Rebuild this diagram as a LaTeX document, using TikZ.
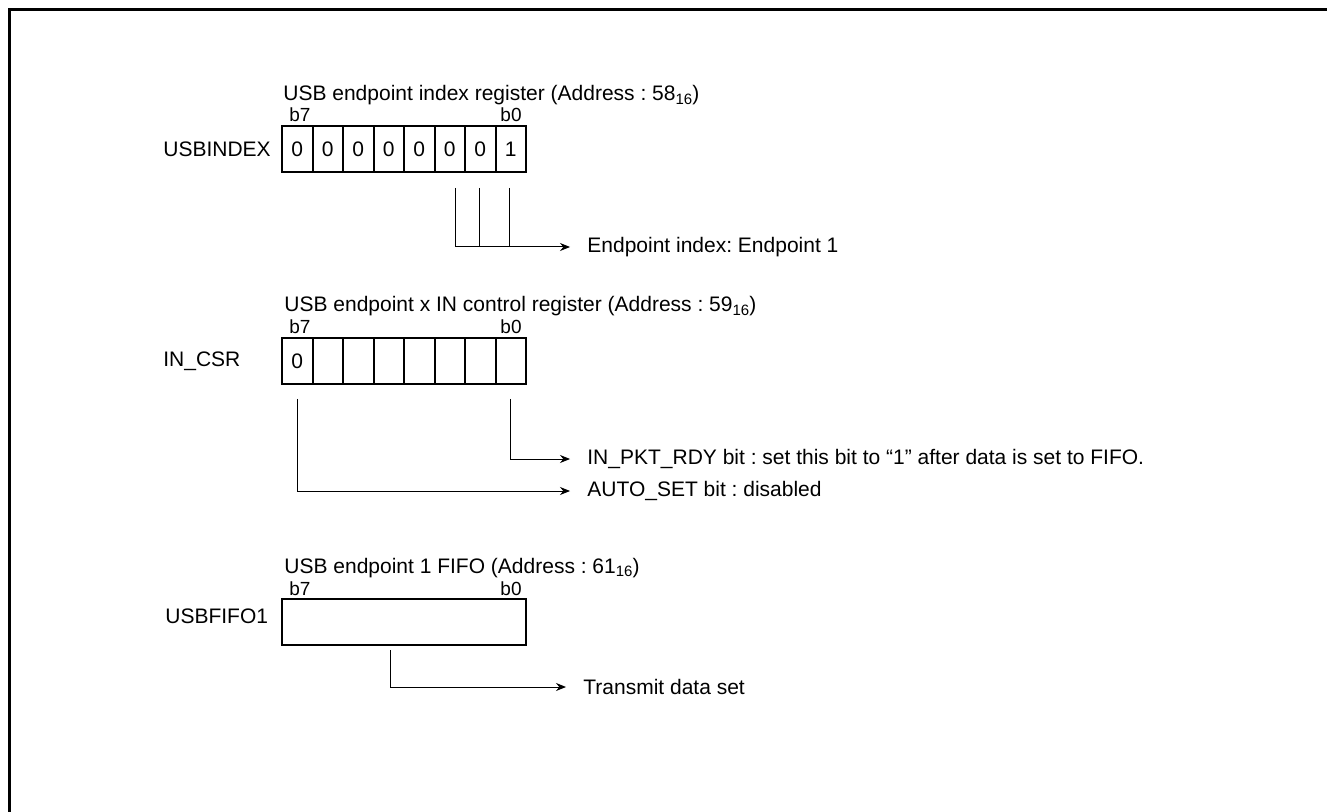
\documentclass[tikz,border=0pt]{standalone}
\usepackage{fontspec}
\setmainfont{Liberation Sans}
\usetikzlibrary{arrows.meta,positioning}
\newcommand{\sixteen}{\raisebox{-0.3ex}{\fontsize{7.5}{8}\selectfont 16}}
\frenchspacing
\begin{document}
\begin{tikzpicture}[x=0.5pt,y=-0.5pt,
  txt/.style={font=\fontsize{10.5}{12}\selectfont, inner sep=0pt},
  bitno/.style={font=\fontsize{9.5}{11}\selectfont, inner sep=0pt},
  cell/.style={draw, line width=1pt, minimum width=15.25pt, minimum height=23pt, inner sep=0pt, font=\fontsize{10.5}{12}\selectfont},
  wire/.style={line width=0.5pt},
  arr/.style={wire, -{Stealth[length=5pt,width=4pt]}, shorten >=8.5pt}]
\clip (0,0) rectangle (1327,812);
\draw[line width=1.5pt] (9.5,9.5) rectangle (1400,900);
\node[txt, anchor=base west] (t1) at (283,101) {USB endpoint index register (Address : 58\sixteen)};
\node[bitno, anchor=base west] (a7) at (289,122) {b7};
\node[bitno, anchor=base east] (a0) at (522,122) {b0};
\node[txt, anchor=west] (usbindex) at (163,149) {USBINDEX};
\node[cell] (i7) at (297.25,149) {0};
\node[cell] (i6) at (327.75,149) {0};
\node[cell] (i5) at (358.25,149) {0};
\node[cell] (i4) at (388.75,149) {0};
\node[cell] (i3) at (419.25,149) {0};
\node[cell] (i2) at (449.75,149) {0};
\node[cell] (i1) at (480.25,149) {0};
\node[cell] (i0) at (510.75,149) {1};
\node[txt, anchor=west] (ep) at (587,247) {Endpoint index: Endpoint 1};
\draw[arr] ([xshift=3pt,yshift=-7.5pt]i2.south) |- (ep.west);
\draw[wire] ([xshift=-0.5pt,yshift=-7.5pt]i1.south) -- ([xshift=-0.5pt]i1.south |- ep.west);
\draw[wire] ([xshift=-0.5pt,yshift=-7.5pt]i0.south) -- ([xshift=-0.5pt]i0.south |- ep.west);
\node[txt, anchor=base west] (t2) at (284,312) {USB endpoint x IN control register (Address : 59\sixteen)};
\node[bitno, anchor=base west] (c7b) at (289,334) {b7};
\node[bitno, anchor=base east] (c0b) at (522,334) {b0};
\node[txt, anchor=west] (incsr) at (163,361) {IN\_CSR};
\node[cell] (c7) at (297.25,361) {0};
\node[cell] (c6) at (327.75,361) {};
\node[cell] (c5) at (358.25,361) {};
\node[cell] (c4) at (388.75,361) {};
\node[cell] (c3) at (419.25,361) {};
\node[cell] (c2) at (449.75,361) {};
\node[cell] (c1) at (480.25,361) {};
\node[cell] (c0) at (510.75,361) {};
\node[txt, anchor=west] (pkt) at (587,459) {IN\_PKT\_RDY bit : set this bit to “1” after data is set to FIFO.};
\node[txt, anchor=west] (auto) at (587,491) {AUTO\_SET bit : disabled};
\draw[arr] ([yshift=-7pt]c0.south) |- (pkt.west);
\draw[arr] ([yshift=-7pt]c7.south) |- (auto.west);
\node[txt, anchor=base west] (t3) at (284,573) {USB endpoint 1 FIFO (Address : 61\sixteen)};
\node[bitno, anchor=base west] (f7) at (289,595) {b7};
\node[bitno, anchor=base east] (f0) at (522,595) {b0};
\node[txt, anchor=west] (usbfifo) at (165,616) {USBFIFO1};
\node[draw, line width=1pt, minimum width=122pt, minimum height=23pt] (fifo) at (404,622) {};
\node[txt, anchor=west] (tx) at (583,687) {Transmit data set};
\draw[arr] ([xshift=-7pt,yshift=-2pt]fifo.south) |- (tx.west);
\end{tikzpicture}
\end{document}
